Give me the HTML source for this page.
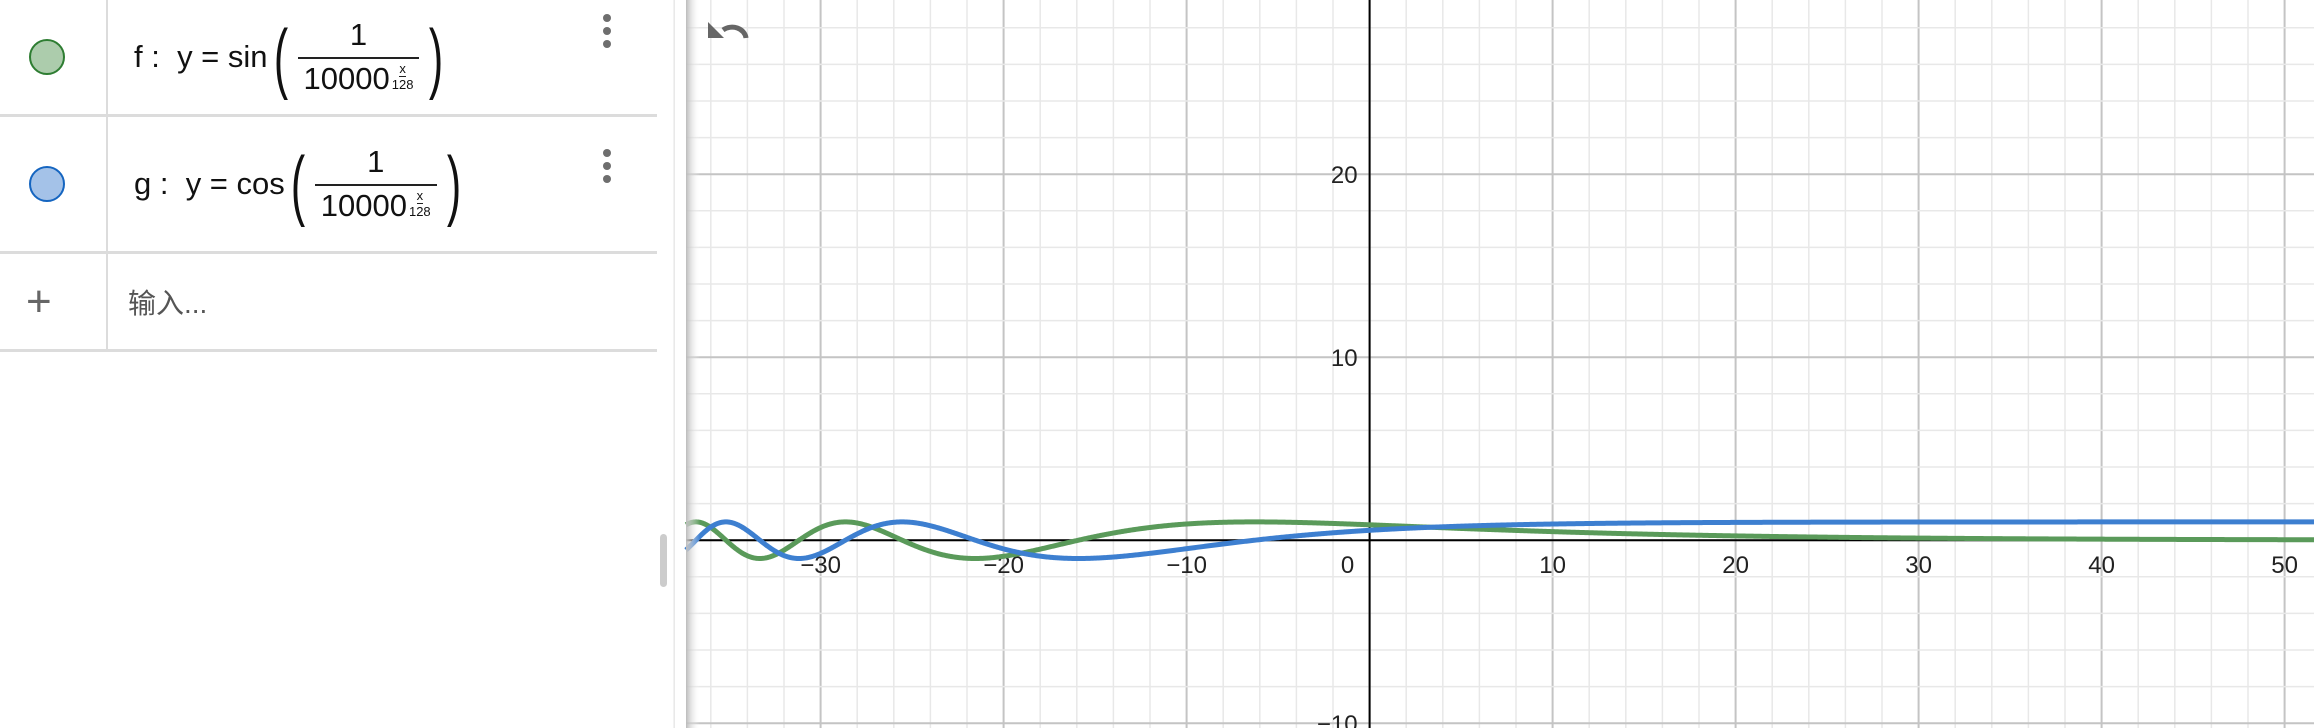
<!DOCTYPE html>
<html><head><meta charset="utf-8"><style>
html,body{margin:0;padding:0;width:2314px;height:728px;overflow:hidden;background:#fff;font-family:"Liberation Sans","Noto Sans CJK SC",sans-serif}
#panel{position:absolute;left:0;top:0;width:686px;height:728px;background:#fff}
.row{position:absolute;left:0;width:657px;border-bottom:3px solid #dcdcdc}
.col{position:absolute;left:106px;top:0;width:2px;background:#dcdcdc}
.dot{position:absolute;left:29px;width:36px;height:36px;border-radius:50%;box-sizing:border-box}
.menu{position:absolute;left:603px;width:8px}
.menu i{display:block;width:8px;height:8px;border-radius:50%;background:#6e6e6e;margin-bottom:5px}
.formula{position:absolute;left:134px;font-size:31px;color:#111;display:flex;align-items:center;white-space:nowrap}
.frac{display:inline-flex;flex-direction:column;align-items:center;margin:0 4px}
.frac .num{padding-bottom:4px}
.frac .den{border-top:2px solid #222;padding:2px 6px 0}
.paren{font-size:78px;font-weight:100;transform:scaleX(0.55);display:inline-block;line-height:1}
.sup{display:inline-flex;flex-direction:column;align-items:center;font-size:13px;vertical-align:top;margin-left:2px}
.sup span:first-child{border-bottom:1px solid #222}
</style></head><body>
<div id="panel">
  <div class="row" style="top:0;height:114px">
    <div class="col" style="height:114px"></div>
    <div class="dot" style="top:39px;background:#acccac;border:2px solid #2e7d32"></div>
    <div class="formula" style="top:12px;height:90px">f&nbsp;:&nbsp;&nbsp;y = sin<span class="paren">(</span><span class="frac"><span class="num">1</span><span class="den">10000<span class="sup"><span>x</span><span>128</span></span></span></span><span class="paren">)</span></div>
    <div class="menu" style="top:14px"><i></i><i></i><i></i></div>
  </div>
  <div class="row" style="top:117px;height:134px">
    <div class="col" style="height:134px"></div>
    <div class="dot" style="top:49px;background:#a4c2e8;border:2px solid #1565c0"></div>
    <div class="formula" style="top:22px;height:90px">g&nbsp;:&nbsp;&nbsp;y = cos<span class="paren">(</span><span class="frac"><span class="num">1</span><span class="den">10000<span class="sup"><span>x</span><span>128</span></span></span></span><span class="paren">)</span></div>
    <div class="menu" style="top:32px"><i></i><i></i><i></i></div>
  </div>
  <div class="row" style="top:254px;height:95px">
    <div class="col" style="height:95px"></div>
    <div style="position:absolute;left:26px;top:30px;font-size:44px;color:#666;line-height:36px">+</div>
    <div style="position:absolute;left:128px;top:28px;font-size:28px;color:#555">输入...</div>
  </div>
  <div style="position:absolute;left:660px;top:534px;width:7px;height:53px;border-radius:4px;background:#ccc"></div>
</div>
<svg id="g" width="2314" height="728" style="position:absolute;left:0;top:0">
  <defs><linearGradient id="sh" x1="0" x2="1"><stop offset="0" stop-color="#bbb"/><stop offset="1" stop-color="#fff" stop-opacity="0"/></linearGradient></defs>
  <g id="grid"></g><g id="axes"></g><g id="curves"></g>
  <rect x="686" y="0" width="14" height="728" fill="url(#sh)"/>
  <path d="M723 30 A14 12 0 0 1 746 38" fill="none" stroke="#666" stroke-width="5"/>
  <path d="M708 22 L708 38 L724 38 Z" fill="#666"/>
</svg>
<script>
const baseValue = 10000;
const expDivisor = 128;
const xTicks = [-30,-20,-10,0,10,20,30,40,50];
const yTicks = [-10,10,20];
const seriesNames = ['f','g'];
const seriesColors = ['#5a9a5a','#3d7fd0'];

const X0=1369.6, Y0=540.2, U=18.3, L=686, R=2314;
const sx=x=>X0+x*U, sy=y=>Y0-y*U;
const NS='http://www.w3.org/2000/svg';
function mk(t,a,p){const e=document.createElementNS(NS,t);for(const k in a)e.setAttribute(k,a[k]);p.appendChild(e);return e;}
const grid=document.getElementById('grid'),axes=document.getElementById('axes'),curves=document.getElementById('curves');
for(let x=-38;x<=52;x+=2){const major=x%10===0;
  const e=mk('line',{x1:sx(x),x2:sx(x),y1:0,y2:728,stroke:major?'#c4c4c4':'#e8e8e8','stroke-width':major?2:1.5},grid);
  
  }
for(let y=-12;y<=30;y+=2){const major=y%10===0;
  const e=mk('line',{x1:L,x2:R,y1:sy(y),y2:sy(y),stroke:major?'#c4c4c4':'#e8e8e8','stroke-width':major?2:1.5},grid);
  
  }
let a=mk('line',{x1:L,x2:R,y1:Y0,y2:Y0,stroke:'#000','stroke-width':2},axes);


a=mk('line',{x1:X0,x2:X0,y1:0,y2:728,stroke:'#000','stroke-width':2},axes);


xTicks.forEach(v=>{const t=mk('text',{x:v===0?sx(v)-22:sx(v),y:Y0+33,'text-anchor':'middle','font-size':24,fill:'#222','font-family':'Liberation Sans, sans-serif'},axes);
  t.textContent=v<0?'\u2212'+(-v):String(v);
  
  });
yTicks.forEach(v=>{const t=mk('text',{x:X0-12,y:sy(v)+9,'text-anchor':'end','font-size':24,fill:'#222','font-family':'Liberation Sans, sans-serif'},axes);
  t.textContent=v<0?'\u2212'+(-v):String(v);
  
  });
const fn=[a=>Math.sin(a),a=>Math.cos(a)];
seriesNames.forEach((n,i)=>{let d='';
  for(let px=L;px<=R;px+=1){const x=(px-X0)/U;const arg=1/Math.pow(baseValue,x/expDivisor);const y=fn[i](arg);d+=(d?'L':'M')+px+' '+sy(y).toFixed(2);}
  const p=mk('path',{d:d,fill:'none',stroke:seriesColors[i],'stroke-width':5,'stroke-linejoin':'round'},curves);
  
  });
</script>
</body></html>
